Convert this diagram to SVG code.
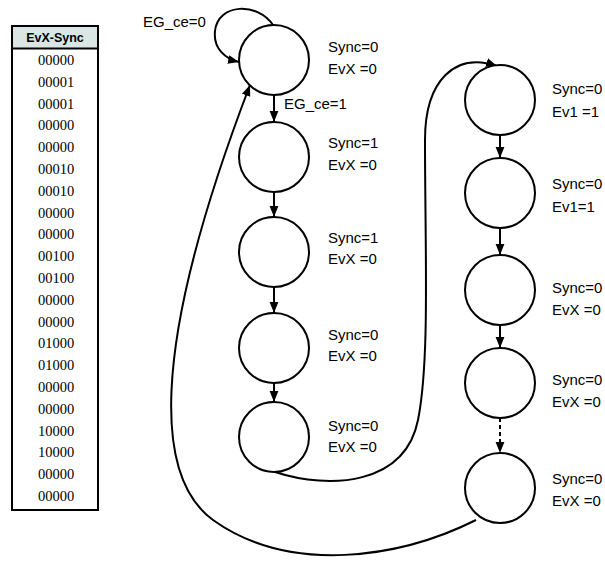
<svg xmlns="http://www.w3.org/2000/svg" width="605" height="570" viewBox="0 0 605 570">
<style>
.st{fill:#fff;stroke:#000;stroke-width:2}
.lb{font-family:"Liberation Sans",Arial,sans-serif;font-size:15px;fill:#000}
.row{font-family:"Liberation Serif","Times New Roman",serif;font-size:14.5px;fill:#000;text-anchor:middle}
.hd{font-family:"Liberation Sans",Arial,sans-serif;font-size:12.5px;font-weight:bold;fill:#000;text-anchor:middle}
.cn{fill:none;stroke:#000;stroke-width:2}
.ar{marker-end:url(#ah)}
.ds{stroke-dasharray:4 3}
</style>
<defs>
<marker id="ah" viewBox="0 0 10 10" refX="10" refY="5" markerWidth="11" markerHeight="11" markerUnits="userSpaceOnUse" orient="auto">
<path d="M0,1 L10,5 L0,9 z" fill="#000"/>
</marker>
</defs>
<g id="table">
<rect x="12" y="26" width="86" height="484" fill="#fff" stroke="#000" stroke-width="2"/>
<rect x="13" y="27" width="84" height="21" fill="#d9e6e3"/>
<line x1="12" y1="48.5" x2="98" y2="48.5" stroke="#000" stroke-width="2"/>
<text class="hd" x="55" y="42">EvX-Sync</text>
<text class="row" x="56" y="65">00000</text>
<text class="row" x="56" y="86.8">00001</text>
<text class="row" x="56" y="108.6">00001</text>
<text class="row" x="56" y="130.4">00000</text>
<text class="row" x="56" y="152.2">00000</text>
<text class="row" x="56" y="174">00010</text>
<text class="row" x="56" y="195.8">00010</text>
<text class="row" x="56" y="217.6">00000</text>
<text class="row" x="56" y="239.4">00000</text>
<text class="row" x="56" y="261.2">00100</text>
<text class="row" x="56" y="283">00100</text>
<text class="row" x="56" y="304.8">00000</text>
<text class="row" x="56" y="326.6">00000</text>
<text class="row" x="56" y="348.4">01000</text>
<text class="row" x="56" y="370.2">01000</text>
<text class="row" x="56" y="392">00000</text>
<text class="row" x="56" y="413.8">00000</text>
<text class="row" x="56" y="435.6">10000</text>
<text class="row" x="56" y="457.4">10000</text>
<text class="row" x="56" y="479.2">00000</text>
<text class="row" x="56" y="501">00000</text>
</g>
<g id="connectors">
<path class="cn ar" d="M273 25 C258 2,218 3,215 31 C213 49,226 59,239 62"/>
<line class="cn ar" x1="274" y1="95" x2="274" y2="122"/>
<line class="cn ar" x1="274" y1="192" x2="274" y2="217"/>
<line class="cn ar" x1="274" y1="287" x2="274" y2="313"/>
<line class="cn ar" x1="274" y1="383" x2="274" y2="402"/>
<path class="cn ar" d="M275 472 C330 490,405 485,418 420 C430 360,425 250,425 140 C425 80,455 52,497 66"/>
<line class="cn ar" x1="500" y1="135" x2="500" y2="158"/>
<line class="cn ar" x1="500" y1="228" x2="500" y2="255"/>
<line class="cn ar" x1="500" y1="325" x2="500" y2="348"/>
<line class="cn ar ds" x1="500" y1="418" x2="500" y2="453"/>
<path class="cn ar" d="M476 520 C400 558,290 575,213 520 C158 480,145 360,250 85"/>
<text class="lb" x="143" y="27">EG_ce=0</text>
<text class="lb" x="284" y="109">EG_ce=1</text>
</g>
<g id="s1"><circle class="st" cx="274" cy="60" r="35"/><text class="lb" x="328" y="51.5">Sync=0</text><text class="lb" x="328" y="73.5">EvX =0</text></g>
<g id="s2"><circle class="st" cx="274" cy="157" r="35"/><text class="lb" x="328" y="147.5">Sync=1</text><text class="lb" x="328" y="169.5">EvX =0</text></g>
<g id="s3"><circle class="st" cx="274" cy="252" r="35"/><text class="lb" x="328" y="242.5">Sync=1</text><text class="lb" x="328" y="263.5">EvX =0</text></g>
<g id="s4"><circle class="st" cx="274" cy="348" r="35"/><text class="lb" x="328" y="339.5">Sync=0</text><text class="lb" x="328" y="360.5">EvX =0</text></g>
<g id="s5"><circle class="st" cx="274" cy="437" r="35"/><text class="lb" x="328" y="430.5">Sync=0</text><text class="lb" x="328" y="451.5">EvX =0</text></g>
<g id="s6"><circle class="st" cx="500" cy="100" r="35"/><text class="lb" x="552" y="93.5">Sync=0</text><text class="lb" x="552" y="116.5">Ev1 =1</text></g>
<g id="s7"><circle class="st" cx="500" cy="193" r="35"/><text class="lb" x="552" y="188.5">Sync=0</text><text class="lb" x="552" y="211.5">Ev1=1</text></g>
<g id="s8"><circle class="st" cx="500" cy="290" r="35"/><text class="lb" x="552" y="292.5">Sync=0</text><text class="lb" x="552" y="314.5">EvX =0</text></g>
<g id="s9"><circle class="st" cx="500" cy="383" r="35"/><text class="lb" x="552" y="384.5">Sync=0</text><text class="lb" x="552" y="406.5">EvX =0</text></g>
<g id="s10"><circle class="st" cx="500" cy="488" r="35"/><text class="lb" x="552" y="483.5">Sync=0</text><text class="lb" x="552" y="505.5">EvX =0</text></g>
</svg>
